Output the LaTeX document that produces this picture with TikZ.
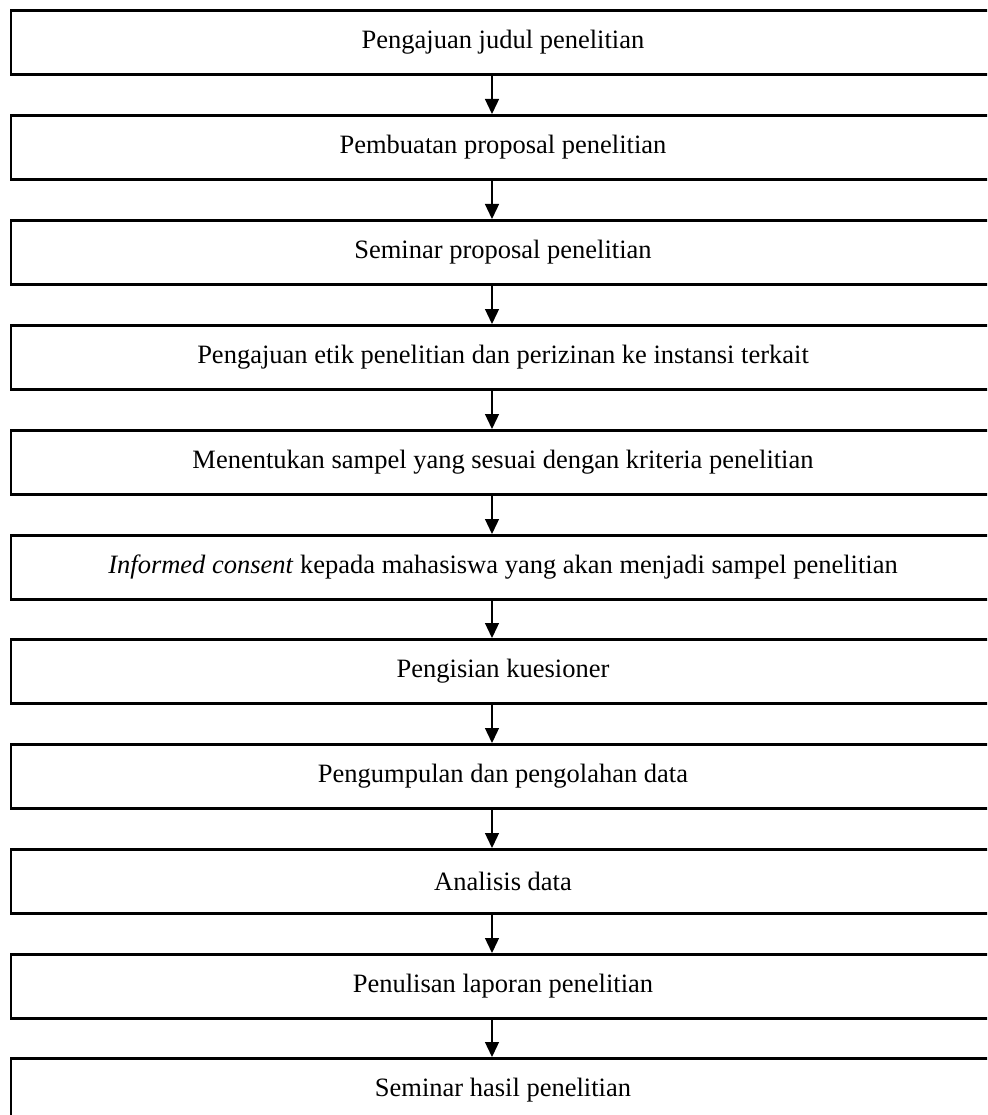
\documentclass[tikz,border=0pt]{standalone}
\usepackage{fontspec}
\setmainfont{Liberation Serif}
\usetikzlibrary{arrows.meta}
\begin{document}
\begin{tikzpicture}[x=1pt,y=-1pt,
  stepbox/.style={draw=black, line width=2.6pt, minimum width=984pt, minimum height=64pt,
    inner sep=0pt, font=\fontsize{26.5pt}{30pt}\selectfont, anchor=north},
  flow/.style={line width=1.3pt, -{Triangle[length=15pt,width=14pt]}}]
\useasboundingbox (0,0) rectangle (987,1115);
\clip (0,0) rectangle (987,1115);
\node[stepbox] (b1) at (503,9) {Pengajuan judul penelitian};
\node[stepbox] (b2) at (503,114) {Pembuatan proposal penelitian};
\node[stepbox] (b3) at (503,219) {Seminar proposal penelitian};
\node[stepbox] (b4) at (503,324) {Pengajuan etik penelitian dan perizinan ke instansi terkait};
\node[stepbox] (b5) at (503,429) {Menentukan sampel yang sesuai dengan kriteria penelitian};
\node[stepbox] (b6) at (503,534) {\textit{Informed consent} kepada mahasiswa yang akan menjadi sampel penelitian};
\node[stepbox] (b7) at (503,638) {Pengisian kuesioner};
\node[stepbox] (b8) at (503,743) {Pengumpulan dan pengolahan data};
\node[stepbox] (b9) at (503,848) {Analisis data};
\node[stepbox] (b10) at (503,953) {Penulisan laporan penelitian};
\node[stepbox] (b11) at (503,1057) {Seminar hasil penelitian};
\foreach \a/\b in {b1/b2,b2/b3,b3/b4,b4/b5,b5/b6,b6/b7,b7/b8,b8/b9,b9/b10,b10/b11}
  \draw[flow] ([xshift=-11pt]\a.south) -- ([xshift=-11pt]\b.north);
\end{tikzpicture}
\end{document}
